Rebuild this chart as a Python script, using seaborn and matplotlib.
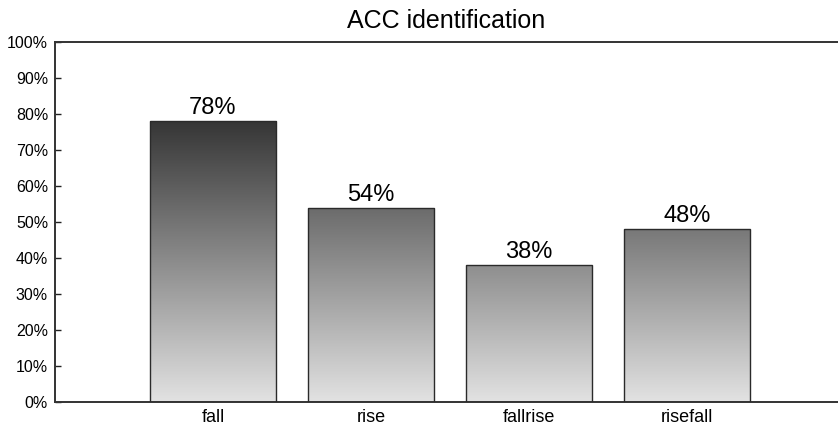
import numpy as np
import pandas as pd
import matplotlib
matplotlib.use("Agg")
import matplotlib.pyplot as plt
import seaborn as sns
from matplotlib.colors import LinearSegmentedColormap

categories = ["fall", "rise", "fallrise", "risefall"]
values = [78, 54, 38, 48]
labels = ["78%", "54%", "38%", "48%"]
yticks = [0, 10, 20, 30, 40, 50, 60, 70, 80, 90, 100]
ytick_labels = [f"{v}%" for v in yticks]

sns.set_theme(style="white")
plt.rcParams["font.family"] = ["Liberation Sans", "DejaVu Sans"]
plt.rcParams["text.color"] = "black"
plt.rcParams["xtick.color"] = "black"
plt.rcParams["ytick.color"] = "black"
plt.rcParams["axes.labelcolor"] = "black"

fig = plt.figure(figsize=(8.38, 4.32), dpi=100)
ax = fig.add_axes([55 / 838, 30 / 432, (838 - 55) / 838, 360 / 432])

df = pd.DataFrame({"cat": categories, "val": values})
sns.barplot(data=df, x="cat", y="val", ax=ax, color="white", width=0.8,
            edgecolor="#2a2a2a", linewidth=1.0, saturation=1)

cmap = LinearSegmentedColormap.from_list("g", ["#e2e2e2", "#050505"])
grad = np.linspace(0, 1, 256).reshape(-1, 1)
for p in list(ax.patches):
    x0 = p.get_x()
    w = p.get_width()
    im = ax.imshow(grad, cmap=cmap, origin="lower", aspect="auto",
                   extent=[x0, x0 + w, 0, 100], vmin=0, vmax=1, zorder=p.get_zorder() - 0.1)
    im.set_clip_path(p)
    p.set_facecolor("none")
    p.set_zorder(3)

for i, (v, lab) in enumerate(zip(values, labels)):
    ax.text(i, v + 0.5, lab, ha="center", va="bottom", fontsize=17, color="black")

ax.set_xlim(-1, (838 - 213) / 158)
ax.set_ylim(0, 100)
ax.set_yticks(yticks)
ax.set_yticklabels(ytick_labels, fontsize=11.5, color="black")
ax.set_xticks(range(len(categories)))
ax.set_xticklabels(categories, fontsize=13, color="black")
ax.set_xlabel("")
ax.set_ylabel("")
ax.set_title("ACC identification", fontsize=18, pad=10, color="black")
ax.tick_params(axis="both", direction="in", length=4, width=1, color="#222222",
               left=True, bottom=True, pad=5)
for s in ["left", "top", "bottom"]:
    ax.spines[s].set_visible(True)
    ax.spines[s].set_color("#333333")
    ax.spines[s].set_linewidth(1.4)
ax.spines["right"].set_visible(False)

fig.savefig("out.png", dpi=100)
